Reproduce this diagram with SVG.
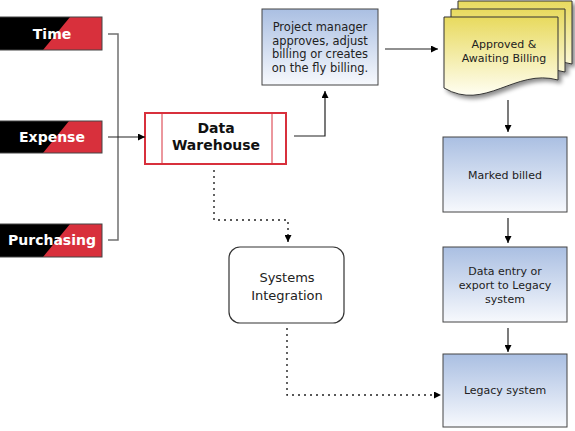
<svg xmlns="http://www.w3.org/2000/svg" width="575" height="431" viewBox="0 0 575 431">
<style>
  .lbl{font-family:"DejaVu Sans",Verdana,sans-serif;font-weight:bold;font-size:14px;fill:#ffffff;text-anchor:middle}
  .t{font-family:"DejaVu Sans",Verdana,sans-serif;font-size:11px;fill:#222;text-anchor:middle}
  .dw{font-family:"DejaVu Sans",Verdana,sans-serif;font-weight:bold;font-size:14px;fill:#111;text-anchor:middle}
  .si{font-family:"DejaVu Sans",Verdana,sans-serif;font-size:13px;fill:#222;text-anchor:middle}
  .red{fill:#d8303c}
  .blk{fill:#000}
  .edge{fill:none;stroke:#444;stroke-width:1}
  .blue{fill:url(#gb);stroke:#444;stroke-width:1}
  .doc{fill:url(#gy);stroke:#333;stroke-width:1}
  .line{fill:none;stroke:#222;stroke-width:1.2}
  .brk{fill:none;stroke:#707070;stroke-width:1.5}
  .dot{fill:none;stroke:#222;stroke-width:1.4;stroke-dasharray:2 4}
</style>
<defs>
  <linearGradient id="gb" x1="0" y1="0" x2="0" y2="1">
    <stop offset="0" stop-color="#aabfe2"/>
    <stop offset="1" stop-color="#f7f9fd"/>
  </linearGradient>
  <linearGradient id="gy" x1="0" y1="0" x2="0" y2="1">
    <stop offset="0" stop-color="#e8da5e"/>
    <stop offset="1" stop-color="#fffef2"/>
  </linearGradient>
  <filter id="sh" x="-20%" y="-20%" width="150%" height="150%">
    <feDropShadow dx="3" dy="3" stdDeviation="2" flood-color="#000" flood-opacity="0.45"/>
  </filter>
  <marker id="ah" viewBox="0 0 10 10" refX="10" refY="5" markerWidth="7" markerHeight="7" markerUnits="userSpaceOnUse" orient="auto">
    <path d="M0,0 L10,5 L0,10 Z" fill="#000"/>
  </marker>
</defs>

<g id="time">
  <rect x="0" y="17" width="102" height="33" class="red"/>
  <polygon points="0,17 70,17 43,50 0,50" class="blk"/>
  <rect x="-1" y="17" width="103" height="33" class="edge"/>
  <text x="52" y="38.5" class="lbl">Time</text>
</g>
<g id="expense">
  <rect x="0" y="121" width="102" height="32" class="red"/>
  <polygon points="0,121 69,121 43,153 0,153" class="blk"/>
  <rect x="-1" y="121" width="103" height="32" class="edge"/>
  <text x="52" y="142" class="lbl">Expense</text>
</g>
<g id="purchasing">
  <rect x="0" y="224" width="102" height="33" class="red"/>
  <polygon points="0,224 70,224 43,257 0,257" class="blk"/>
  <rect x="-1" y="224" width="103" height="33" class="edge"/>
  <text x="52" y="245" class="lbl">Purchasing</text>
</g>

<g id="data-warehouse">
  <rect x="145" y="113" width="141" height="51" fill="#fff" stroke="#d8303c" stroke-width="2"/>
  <line x1="162" y1="113" x2="162" y2="164" stroke="#d8303c" stroke-width="1"/>
  <line x1="272" y1="113" x2="272" y2="164" stroke="#d8303c" stroke-width="1"/>
  <text x="216" y="132.5" class="dw">Data</text>
  <text x="216" y="150" class="dw">Warehouse</text>
</g>

<g id="project-manager">
  <rect x="262" y="9" width="116" height="76" class="blue"/>
  <text class="t" style="font-size:11.5px" x="320" y="30.5">Project manager</text>
  <text class="t" style="font-size:11.5px" x="320" y="44.5">approves, adjust</text>
  <text class="t" style="font-size:11.5px" x="320" y="58">billing or creates</text>
  <text class="t" style="font-size:11.5px" x="320" y="72">on the fly billing.</text>
</g>

<g id="approved">
  <g filter="url(#sh)">
    <path class="doc" d="M458,1 H572 V64 C529,52 499,96 458,72 Z"/>
    <path class="doc" d="M451,9 H565 V72 C522,60 492,104 451,80 Z"/>
    <path class="doc" d="M444,17 H558 V80 C515,68 485,112 444,88 Z"/>
  </g>
  <text x="504" y="47.5" class="t">Approved &amp;</text>
  <text x="504" y="61.5" class="t">Awaiting Billing</text>
</g>

<g id="marked-billed">
  <rect x="443" y="137" width="124" height="75" class="blue"/>
  <text x="505" y="178.5" class="t">Marked billed</text>
</g>

<g id="data-entry">
  <rect x="443" y="247" width="124" height="75" class="blue"/>
  <text x="505" y="275" class="t">Data entry or</text>
  <text x="505" y="289" class="t">export to Legacy</text>
  <text x="505" y="303" class="t">system</text>
</g>

<g id="legacy-system">
  <rect x="443" y="354" width="124" height="73" class="blue"/>
  <text x="505" y="394" class="t">Legacy system</text>
</g>

<g id="systems-integration">
  <rect x="229" y="247" width="115" height="76" rx="11" ry="11" fill="#fff" stroke="#333" stroke-width="1.2"/>
  <text x="287" y="281.5" class="si">Systems</text>
  <text x="287" y="299.5" class="si">Integration</text>
</g>

<g id="connectors">
  <polyline class="brk" points="108,34 118,34 118,240 108,240"/>
  <line class="line" x1="108" y1="137" x2="145" y2="137" marker-end="url(#ah)"/>
  <polyline class="line" points="294,136 325,136 325,91" marker-end="url(#ah)"/>
  <line class="line" x1="385" y1="49" x2="438" y2="49" marker-end="url(#ah)"/>
  <line class="line" x1="508" y1="100" x2="508" y2="132" marker-end="url(#ah)"/>
  <line class="line" x1="508" y1="218" x2="508" y2="243" marker-end="url(#ah)"/>
  <line class="line" x1="508" y1="328" x2="508" y2="352" marker-end="url(#ah)"/>
  <polyline class="dot" points="214,170 214,220 288,220 288,242" marker-end="url(#ah)"/>
  <polyline class="dot" points="287,328 287,395 441,395" marker-end="url(#ah)"/>
</g>
</svg>
